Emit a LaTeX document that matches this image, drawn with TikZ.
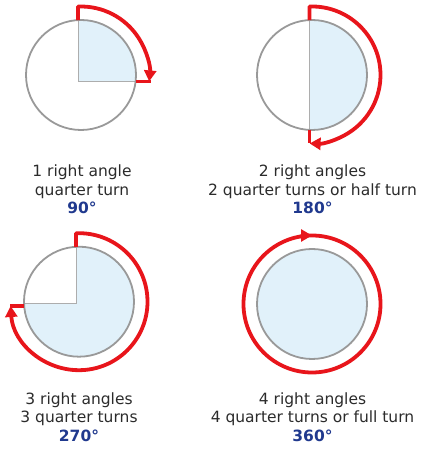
\documentclass[tikz,border=0pt]{standalone}
\usepackage{fontspec}
\setmainfont{DejaVu Sans}
\usetikzlibrary{arrows.meta,calc}
\definecolor{turnred}{HTML}{E8151B}
\definecolor{discblue}{HTML}{E1F1FA}
\definecolor{rimgray}{HTML}{999999}
\definecolor{labgray}{HTML}{2B2B2B}
\definecolor{degblue}{HTML}{20398E}

\begin{document}
\begin{tikzpicture}[x=1pt, y=1pt,
    redpath/.style={draw=turnred, line width=3.8pt, line join=round},
    turntip/.style={-{Triangle[length=11pt, width=12pt]}},
    rim/.style={draw=rimgray, line width=1.8pt},
    radius line/.style={draw=rimgray!80, line width=1pt},
    every node/.style={font=\fontsize{15.5}{18.6}\selectfont, text=labgray, align=center, inner sep=0pt}]
    \useasboundingbox (0,0) rectangle (427,454);

    % Mittelpunkte der vier Kreise
    \coordinate (c1) at (81,379);
    \coordinate (c2) at (312,379);
    \coordinate (c3) at (79,152.3);
    \coordinate (c4) at (312,150);

    % 90: ein Viertel
    \begin{scope}
      \clip (78,372.5) rectangle (150,440);
      \fill[discblue] (c1) circle (55);
    \end{scope}
    \begin{scope}
      \clip (c1) circle (55);
      \draw[radius line] (78,440) -- (78,372.5) -- (150,372.5);
    \end{scope}
    \draw[rim] (c1) circle (55);
    \draw[redpath, turntip] (78,433.9) -- ($(c1)+(92.5:68.5)$) arc[start angle=92.5, end angle=-5.4, radius=68.5];
    \draw[redpath] (135.6,372.5) -- (150.5,372.5);

    % 180: Halbkreis
    \begin{scope}
      \clip (309.5,300) rectangle (380,460);
      \fill[discblue] (c2) circle (55);
    \end{scope}
    \begin{scope}
      \clip (c2) circle (55);
      \draw[radius line] (309.5,300) -- (309.5,460);
    \end{scope}
    \draw[rim] (c2) circle (55);
    \draw[redpath, turntip] (309.5,433.9) -- ($(c2)+(92.1:68.5)$) arc[start angle=92.1, end angle=-92, radius=68.5];
    \draw[redpath] (309.5,324.1) -- (309.5,310.5);

    % 270: drei Viertel
    \fill[discblue] (c3) circle (55);
    \begin{scope}
      \clip (0,150.7) rectangle (76,220);
      \fill[white] (c3) circle (56);
    \end{scope}
    \begin{scope}
      \clip (c3) circle (55);
      \draw[radius line] (76,220) -- (76,150.7) -- (0,150.7);
    \end{scope}
    \draw[rim] (c3) circle (55);
    \draw[redpath, turntip] (76,207.2) -- ($(c3)+(92.5:68.5)$) arc[start angle=92.5, end angle=-176.4, radius=68.5];
    \draw[redpath] (24.2,148) -- (10,148);

    % 360: voller Kreis
    \draw[redpath] (c4) circle (68.5);
    \draw[redpath, turntip] ($(c4)+(100:68.5)$) arc[start angle=100, end angle=90, radius=68.5];
    \draw[rim, fill=discblue] (c4) circle (55);

    % Beschriftungen
    \node (lab1) at (82,264.5) {1 right angle\\quarter turn\\{\color{degblue}\bfseries 90°}};
    \node (lab2) at (312.5,264.5) {2 right angles\\2 quarter turns or half turn\\{\color{degblue}\bfseries 180°}};
    \node (lab3) at (79,36.9) {3 right angles\\3 quarter turns\\{\color{degblue}\bfseries 270°}};
    \node (lab4) at (312.5,36.9) {4 right angles\\4 quarter turns or full turn\\{\color{degblue}\bfseries 360°}};
\end{tikzpicture}
\end{document}
